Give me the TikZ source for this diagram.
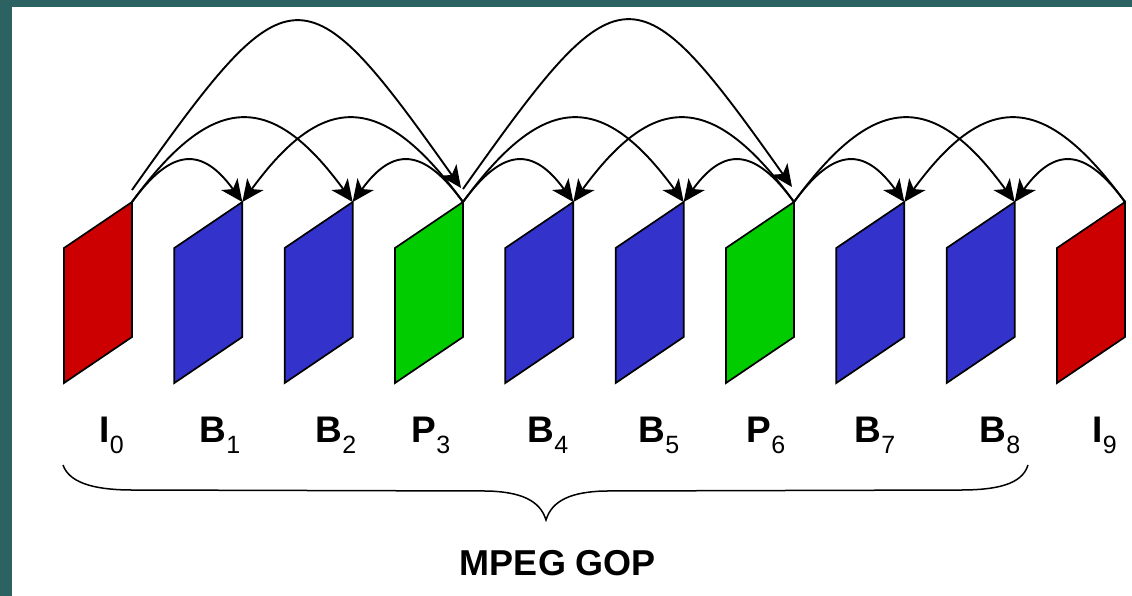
\documentclass[tikz,border=0pt]{standalone}
\usepackage{fontspec}
\setmainfont{Liberation Sans}
\usetikzlibrary{arrows.meta}
\definecolor{tealA}{RGB}{44,98,98}
\definecolor{tealB}{RGB}{64,126,114}
\definecolor{tealC}{RGB}{44,98,98}
\definecolor{iframe}{RGB}{204,0,0}
\definecolor{bframe}{RGB}{51,51,204}
\definecolor{pframe}{RGB}{0,204,0}
\newcommand\fsub[1]{\raisebox{-11pt}{\fontsize{25}{25}\selectfont\mdseries #1}}
\begin{document}
\begin{tikzpicture}[x=1pt,y=-1pt,
  frm/.style={draw=black,line width=1.7pt,line join=miter},
  predarrow/.style={draw=black,line width=1.9pt,arrows={-Stealth[length=22pt,width=20pt,inset=6pt]}},
  lab/.style={font=\fontsize{37}{37}\selectfont\bfseries,anchor=base west,inner sep=0pt},
  bracestyle/.style={draw=black,line width=1.5pt},
  titlestyle/.style={font=\fontsize{36}{36}\selectfont\bfseries,anchor=base,inner sep=0pt}]
\useasboundingbox (0,0) rectangle (1132,595);
\shade[left color=tealA,middle color=tealB,right color=tealC] (-5,-5) rectangle (1140,600);
\fill[white] (12,7) rectangle (1140,600);
% frame corners (top right)
\foreach \i in {0,...,9} \coordinate (f\i) at ({132+110.33*\i},202);
% frames
\foreach \i/\c in {0/iframe,1/bframe,2/bframe,3/pframe,4/bframe,5/bframe,6/pframe,7/bframe,8/bframe,9/iframe}
  \draw[frm,fill=\c] (f\i) -- ++(0,135) -- ++(-68,46) -- ++(0,-135) -- cycle;
% labels
\node[lab] (l0) at (99.5,442) {I\fsub{0}};
\node[lab] (l1) at (199.5,442) {B\fsub{1}};
\node[lab] (l2) at (315.5,442) {B\fsub{2}};
\node[lab] (l3) at (411.5,442) {P\fsub{3}};
\node[lab] (l4) at (527.5,442) {B\fsub{4}};
\node[lab] (l5) at (638.5,442) {B\fsub{5}};
\node[lab] (l6) at (746.5,442) {P\fsub{6}};
\node[lab] (l7) at (854.5,442) {B\fsub{7}};
\node[lab] (l8) at (979.5,442) {B\fsub{8}};
\node[lab] (l9) at (1092.5,442) {I\fsub{9}};
% large arcs
\coordinate (s0) at ([yshift=12pt]f0);
\coordinate (e3) at ([shift={(-2,-14)}]f3);
\coordinate (s3) at ([yshift=13pt]f3);
\coordinate (e6) at ([shift={(-2,-15)}]f6);
\draw[predarrow] (s0) .. controls +(158,-223) and +(-158,-223) .. (e3);
\draw[predarrow] (s3) .. controls +(158,-223) and +(-158,-223) .. (e6);
% medium arcs
\draw[predarrow] (f0) .. controls +(81,-111) and +(-81,-111) .. (f2);
\draw[predarrow] (f3) .. controls +(-81,-111) and +(81,-111) .. (f1);
\draw[predarrow] (f3) .. controls +(81,-111) and +(-81,-111) .. (f5);
\draw[predarrow] (f6) .. controls +(-81,-111) and +(81,-111) .. (f4);
\draw[predarrow] (f6) .. controls +(81,-111) and +(-81,-111) .. (f8);
\draw[predarrow] (f9) .. controls +(-81,-111) and +(81,-111) .. (f7);
% small arcs
\draw[predarrow] (f0) .. controls +(40,-55) and +(-40,-55) .. (f1);
\draw[predarrow] (f3) .. controls +(-40,-55) and +(40,-55) .. (f2);
\draw[predarrow] (f3) .. controls +(40,-55) and +(-40,-55) .. (f4);
\draw[predarrow] (f6) .. controls +(-40,-55) and +(40,-55) .. (f5);
\draw[predarrow] (f6) .. controls +(40,-55) and +(-40,-55) .. (f7);
\draw[predarrow] (f9) .. controls +(-40,-55) and +(40,-55) .. (f8);
% brace
\coordinate (bl) at (63,465);
\coordinate (bm) at (546,520);
\coordinate (br) at (1028,465);
\draw[bracestyle] (bl) .. controls +(7,20) and +(-33,0) .. (133,490) -- (488,491)
  .. controls +(32,1) and +(-6,-20) .. (bm)
  .. controls +(6,-20) and +(-32,1) .. (604,491) -- (960,490)
  .. controls +(35,0) and +(-6,20) .. (br);
\node[titlestyle] (gop) at (558,575) {MPEG GOP};
\end{tikzpicture}
\end{document}
